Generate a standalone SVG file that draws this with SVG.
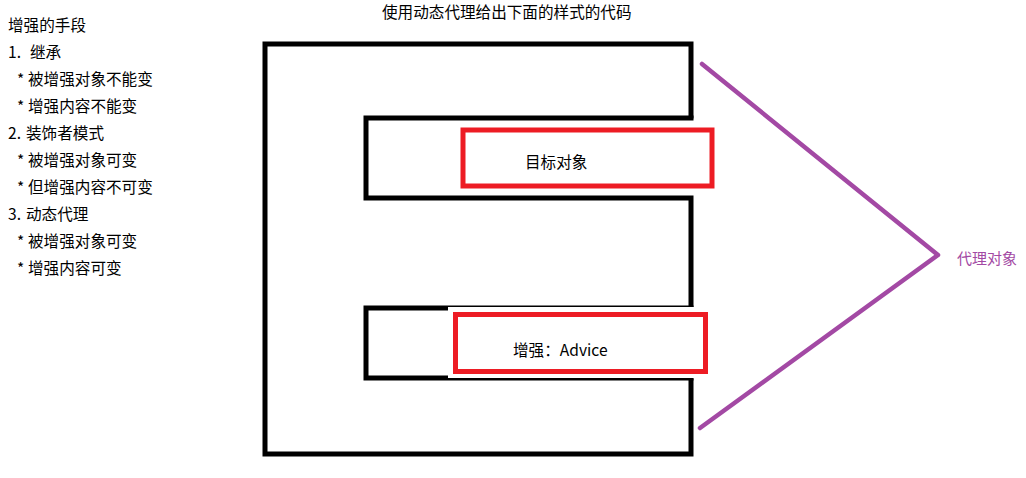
<svg xmlns="http://www.w3.org/2000/svg" width="1026" height="478" viewBox="0 0 1026 478">
<style>
text{font-family:"Microsoft YaHei","Noto Sans CJK SC","Noto Sans",sans-serif;font-size:15.6px;fill:#000}
.frame{fill:none;stroke:#000;stroke-width:5;stroke-linecap:square;stroke-linejoin:miter}
.box{fill:#fff;stroke:#ed1c24;stroke-width:5}
.proxy{fill:none;stroke:#a349a4;stroke-width:4.5;stroke-linecap:round;stroke-linejoin:round}
.plabel{fill:#a349a4;font-size:15px}
</style>
<rect width="1026" height="478" fill="#fff"/>
<g id="notes">
<text x="8" y="31">增强的手段</text>
<text x="8" y="58">1.<tspan x="30">继承</tspan></text>
<text x="17" y="85">*<tspan x="28">被增强对象不能变</tspan></text>
<text x="17" y="112">*<tspan x="28">增强内容不能变</tspan></text>
<text x="8" y="139">2.<tspan x="26">装饰者模式</tspan></text>
<text x="17" y="166">*<tspan x="28">被增强对象可变</tspan></text>
<text x="17" y="193">*<tspan x="28">但增强内容不可变</tspan></text>
<text x="8" y="220">3.<tspan x="26">动态代理</tspan></text>
<text x="17" y="247">*<tspan x="28">被增强对象可变</tspan></text>
<text x="17" y="274">*<tspan x="28">增强内容可变</tspan></text>
</g>
<g id="title">
<text x="382" y="18">使用动态代理给出下面的样式的代码</text>
</g>
<g id="proxy-frame">
<path class="frame" d="M691 116 V44 H265 V454 H691 V381"/>
<path class="frame" d="M691 118 H366 V198 H691 V305"/>
<path class="frame" d="M691 308 H366 V378 H691"/>
<rect x="448" y="307" width="246" height="71" fill="#fff"/>
</g>
<g id="target">
<rect class="box" x="463" y="130" width="249" height="56"/>
<text x="525" y="168">目标对象</text>
</g>
<g id="advice">
<rect class="box" x="455.5" y="314.5" width="250" height="57"/>
<text x="513" y="356">增强：Advice</text>
</g>
<g id="connectors">
<path class="proxy" d="M702 64 L938 255 L700 428"/>
</g>
<g id="proxy-label">
<text class="plabel" x="957" y="264">代理对象</text>
</g>
</svg>
